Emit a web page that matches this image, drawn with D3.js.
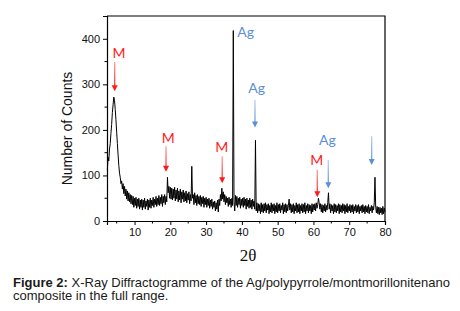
<!DOCTYPE html>
<html>
<head>
<meta charset="utf-8">
<script src="https://cdn.jsdelivr.net/npm/d3@7"></script>
<style>
  body { margin: 0; background: #fff; }
  #chart { width: 460px; height: 311px; }
  .tick text { font-family: "Liberation Sans", Arial, sans-serif; font-size: 11px; fill: #111; }
</style>
</head>
<body>
<div id="chart"></div>
<script>
// scan settings (2θ, degrees)
const scanStart = 2.4;
const scanStep = 0.2;

// counts, one per scan step from 2.4° to 80°
const counts = [
  112, 140, 132, 158, 170, 192, 212, 238, 255, 272,
  265, 245, 222, 195, 170, 145, 122, 105, 96, 82,
  88, 70, 82, 60, 76, 55, 70, 48, 66, 44,
  62, 42, 58, 38, 56, 36, 54, 30, 50, 34,
  52, 28, 48, 32, 50, 26, 46, 30, 48, 24,
  46, 30, 50, 26, 44, 32, 48, 24, 46, 30,
  50, 28, 46, 34, 52, 30, 48, 36, 54, 32,
  50, 36, 56, 34, 52, 38, 58, 32, 54, 40,
  58, 36, 54, 42, 96, 62, 76, 50, 74, 48,
  72, 46, 70, 50, 74, 44, 68, 48, 72, 42,
  66, 46, 70, 40, 64, 48, 68, 42, 62, 44,
  66, 40, 60, 46, 64, 38, 58, 44, 120, 50,
  58, 36, 62, 40, 56, 34, 58, 38, 54, 36,
  56, 32, 52, 38, 54, 30, 50, 36, 52, 30,
  48, 34, 50, 28, 46, 32, 48, 26, 42, 30,
  44, 22, 40, 26, 46, 20, 48, 34, 58, 44,
  72, 48, 64, 42, 58, 36, 54, 40, 50, 32,
  52, 36, 48, 30, 50, 34, 418, 42, 22, 56,
  34, 54, 30, 50, 36, 52, 28, 48, 34, 50,
  30, 52, 34, 48, 26, 50, 32, 46, 28, 50,
  30, 46, 26, 48, 32, 44, 26, 177, 22, 40,
  18, 38, 22, 36, 16, 40, 20, 36, 18, 38,
  22, 40, 18, 36, 24, 38, 16, 34, 20, 40,
  18, 36, 22, 38, 16, 34, 20, 40, 18, 36,
  22, 38, 18, 34, 24, 40, 16, 36, 20, 38,
  18, 36, 22, 34, 48, 24, 38, 18, 36, 20,
  38, 16, 34, 22, 40, 18, 36, 20, 38, 16,
  34, 22, 38, 18, 36, 20, 40, 16, 34, 22,
  38, 18, 36, 22, 34, 16, 38, 20, 36, 24,
  38, 22, 40, 28, 36, 50, 40, 26, 38, 20,
  36, 18, 34, 22, 38, 20, 34, 24, 40, 62,
  26, 38, 18, 36, 22, 34, 16, 38, 20, 36,
  18, 34, 22, 38, 16, 36, 20, 34, 18, 38,
  22, 36, 16, 34, 20, 38, 18, 32, 22, 36,
  18, 34, 20, 36, 16, 32, 22, 36, 18, 34,
  20, 36, 16, 32, 22, 34, 18, 36, 20, 32,
  16, 34, 20, 32, 18, 36, 16, 30, 22, 34,
  18, 32, 24, 40, 96, 30, 18, 32, 16, 30,
  14, 30, 18, 28, 14, 32, 16, 28, 20
];

const xTicks = [10, 20, 30, 40, 50, 60, 70, 80];
const xMinor = [5, 15, 25, 35, 45, 55, 65, 75];
const yTicks = [0, 100, 200, 300, 400];
const yMinor = [50, 150, 250, 350];

// peak markers: label, arrow x (2θ), arrow from/to (counts), label x/y
const markers = [
  {label: 'M',  kind: 'M',  x: 4.45,  from: 349, to: 285, lx: 5.65,  ly: 357, anchor: 'middle'},
  {label: 'M',  kind: 'M',  x: 18.8,  from: 164, to: 108, lx: 19.4,  ly: 171, anchor: 'middle'},
  {label: 'M',  kind: 'M',  x: 34.5,  from: 142, to: 83,  lx: 34.35, ly: 151, anchor: 'middle'},
  {label: 'Ag', kind: 'Ag', x: null,  from: 0,   to: 0,   lx: 38.7,  ly: 405, anchor: 'start'},
  {label: 'Ag', kind: 'Ag', x: 43.66, from: 266, to: 205, lx: 44.14, ly: 281, anchor: 'middle'},
  {label: 'M',  kind: 'M',  x: 61.08, from: 113, to: 52,  lx: 60.9,  ly: 123, anchor: 'middle'},
  {label: 'Ag', kind: 'Ag', x: 64.15, from: 134, to: 72,  lx: 63.87, ly: 167, anchor: 'middle'},
  {label: '',   kind: 'Ag', x: 76.28, from: 186, to: 123, lx: 0,     ly: 0,   anchor: 'middle'}
];

const caption = [
  [{t: 'Figure 2:', b: true}, {t: ' X-Ray Diffractogramme of the Ag/polypyrrole/montmorillonitenano', b: false}],
  [{t: 'composite in the full range.', b: false}]
];

const markColor = {M: '#ff1a1a', Ag: '#5b8fd6'};
const markLight = {M: '#ffa0a0', Ag: '#bcd0f0'};

const svg = d3.select('#chart').append('svg')
  .attr('width', 460)
  .attr('height', 311);

const plot = {left: 107, right: 385, top: 16, bottom: 221};

const x = d3.scaleLinear().domain([2.3, 80]).range([plot.left, plot.right]);
const y = d3.scaleLinear().domain([0, 450]).range([plot.bottom, plot.top]);

const defs = svg.append('defs');

// spectrum
const points = counts.map((c, i) => [scanStart + i * scanStep, c]);
const line = d3.line().x(d => x(d[0])).y(d => y(d[1]));

svg.append('path')
  .datum(points)
  .attr('d', line)
  .attr('fill', 'none')
  .attr('stroke', '#000')
  .attr('stroke-width', 1)
  .attr('stroke-linejoin', 'round');

// axes
const xAxis = svg.append('g')
  .attr('transform', `translate(0,${plot.bottom})`)
  .call(d3.axisBottom(x).tickValues(xTicks).tickSize(4).tickPadding(3).tickFormat(d3.format('d')));
xAxis.append('g').selectAll('line')
  .data(xMinor)
  .enter().append('line')
  .attr('x1', d => x(d)).attr('x2', d => x(d))
  .attr('y1', 0).attr('y2', 2.5)
  .attr('stroke', '#000');

const yAxis = svg.append('g')
  .attr('transform', `translate(${plot.left},0)`)
  .call(d3.axisLeft(y).tickValues(yTicks).tickSize(4).tickPadding(3));
yAxis.append('g').selectAll('line')
  .data(yMinor)
  .enter().append('line')
  .attr('y1', d => y(d)).attr('y2', d => y(d))
  .attr('x1', 0).attr('x2', -2.5)
  .attr('stroke', '#000');

svg.selectAll('.domain').attr('stroke', '#000').attr('stroke-width', 1.2);

// frame top/right
svg.append('path')
  .attr('d', `M${plot.left},${plot.top}H${plot.right}V${plot.bottom}`)
  .attr('fill', 'none')
  .attr('stroke', '#000')
  .attr('stroke-width', 1.2);

// axis titles
svg.append('text')
  .attr('transform', `translate(72,${(plot.top + plot.bottom) / 2 + 10}) rotate(-90)`)
  .attr('text-anchor', 'middle')
  .style('font-family', '"Liberation Sans", Arial, sans-serif')
  .style('font-size', '14px')
  .attr('fill', '#111')
  .text('Number of Counts');

svg.append('text')
  .attr('x', 248)
  .attr('y', 261)
  .attr('text-anchor', 'middle')
  .style('font-family', '"Liberation Serif", "Times New Roman", serif')
  .style('font-size', '17px')
  .attr('fill', '#111')
  .text('2θ');

// peak markers
const mk = svg.append('g');
markers.forEach((m, i) => {
  if (m.x !== null) {
    const ax = x(m.x), y0 = y(m.from), y1 = y(m.to);
    const g = defs.append('linearGradient')
      .attr('id', 'arrow' + i)
      .attr('gradientUnits', 'userSpaceOnUse')
      .attr('x1', ax).attr('x2', ax)
      .attr('y1', y0).attr('y2', y1);
    g.append('stop').attr('offset', '0%').attr('stop-color', markLight[m.kind]);
    g.append('stop').attr('offset', '100%').attr('stop-color', markColor[m.kind]);
    mk.append('line')
      .attr('x1', ax).attr('x2', ax)
      .attr('y1', y0).attr('y2', y1 - 5)
      .attr('stroke', `url(#arrow${i})`)
      .attr('stroke-width', 1.3);
    mk.append('path')
      .attr('d', `M${ax - 3},${y1 - 6}L${ax + 3},${y1 - 6}L${ax},${y1}Z`)
      .attr('fill', markColor[m.kind]);
  }
  if (m.label) {
    mk.append('text')
      .attr('x', x(m.lx))
      .attr('y', y(m.ly))
      .attr('text-anchor', m.anchor)
      .style('font-family', 'Lato, "Open Sans", sans-serif')
      .style('font-size', '14px')
      .attr('fill', markColor[m.kind])
      .text(m.label);
  }
});

// caption
caption.forEach((row, i) => {
  const t = svg.append('text')
    .attr('x', 13)
    .attr('y', 287 + i * 13)
    .style('font-family', '"Liberation Sans", Arial, sans-serif')
    .style('font-size', '13px')
    .attr('fill', '#1a1a1a');
  row.forEach(s => {
    t.append('tspan')
      .style('font-weight', s.b ? 'bold' : 'normal')
      .text(s.t);
  });
});
</script>
</body>
</html>
